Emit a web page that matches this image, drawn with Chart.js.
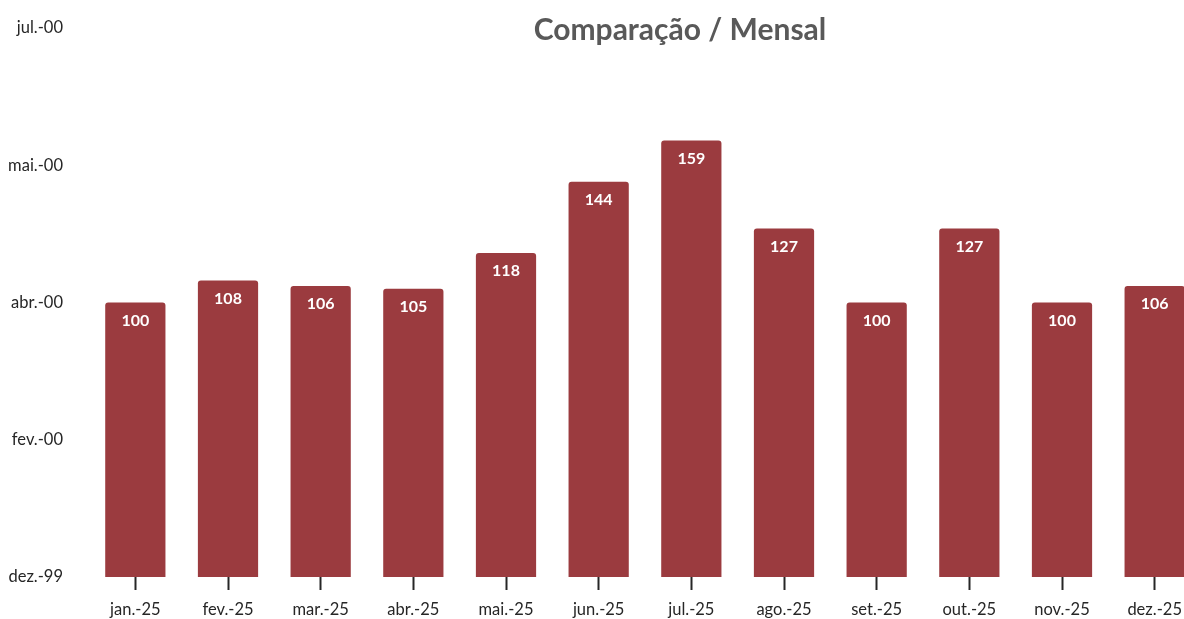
<!DOCTYPE html>
<html>
<head>
<meta charset="utf-8">
<script src="https://cdn.jsdelivr.net/npm/chart.js@4"></script>
<style>
html,body{margin:0;padding:0;overflow:hidden;background:#fff;}
#wrap{position:absolute;left:0;top:0;width:1360px;height:619px;}
</style>
</head>
<body>
<div id="wrap"><canvas id="c" width="1360" height="619"></canvas></div>
<script>
const categories = ['jan.-25','fev.-25','mar.-25','abr.-25','mai.-25','jun.-25','jul.-25','ago.-25','set.-25','out.-25','nov.-25','dez.-25'];
const values = [100,108,106,105,118,144,159,127,100,127,100,106];
const yTickValues = [0,50,100,150,200];
const yTickLabels = ['dez.-99','fev.-00','abr.-00','mai.-00','jul.-00'];
const titleText = 'Comparação / Mensal';

const FONT = 'Lato, "Open Sans", sans-serif';

const titlePlugin = {
  id: 'customTitle',
  afterDraw(chart) {
    const ctx = chart.ctx;
    ctx.save();
    ctx.font = 'bold 30px ' + FONT;
    ctx.fillStyle = '#595959';
    ctx.textAlign = 'center';
    ctx.textBaseline = 'middle';
    ctx.fillText(titleText, 680, 30);
    ctx.restore();
  }
};

const labelPlugin = {
  id: 'barLabels',
  afterDatasetsDraw(chart) {
    const ctx = chart.ctx;
    const meta = chart.getDatasetMeta(0);
    ctx.save();
    ctx.font = 'bold 16px ' + FONT;
    ctx.fillStyle = '#ffffff';
    ctx.textAlign = 'center';
    ctx.textBaseline = 'middle';
    meta.data.forEach((bar, i) => {
      ctx.fillText(String(values[i]), bar.x, bar.y + 18);
    });
    ctx.restore();
  }
};

new Chart(document.getElementById('c'), {
  type: 'bar',
  data: {
    labels: categories,
    datasets: [{
      data: values,
      backgroundColor: '#9b3b3f',
      borderRadius: {topLeft: 3, topRight: 3, bottomLeft: 0, bottomRight: 0},
      borderSkipped: 'bottom',
      categoryPercentage: 1,
      barPercentage: 0.65
    }]
  },
  options: {
    responsive: false,
    animation: false,
    events: [],
    layout: { padding: { left: 0, right: 159, top: 28, bottom: 0 } },
    plugins: { legend: { display: false }, tooltip: { enabled: false }, title: { display: false } },
    scales: {
      x: {
        afterFit(scale) { scale.height = 42; scale.paddingLeft = 0; scale.paddingRight = 0; },
        grid: { display: true, drawOnChartArea: false, drawTicks: true, tickLength: 13, tickColor: '#262626', tickWidth: 2, offset: false },
        border: { display: false },
        ticks: { color: '#262626', font: { family: FONT, size: 16.5 }, padding: 10, maxRotation: 0, autoSkip: false }
      },
      y: {
        min: 0, max: 200,
        afterFit(scale) { scale.width = 89; scale.paddingTop = 0; scale.paddingBottom = 0; },
        afterBuildTicks(scale) { scale.ticks = yTickValues.map(v => ({ value: v })); },
        grid: { display: false, drawTicks: false },
        border: { display: false },
        ticks: {
          color: '#262626', font: { family: FONT, size: 16.5 }, padding: 26,
          callback(v) { const i = yTickValues.indexOf(v); return i >= 0 ? yTickLabels[i] : ''; }
        }
      }
    }
  },
  plugins: [titlePlugin, labelPlugin]
});
</script>
</body>
</html>
